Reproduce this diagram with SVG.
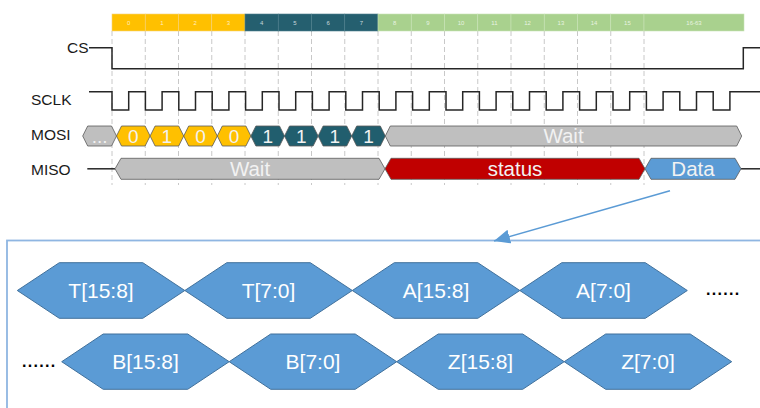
<svg xmlns="http://www.w3.org/2000/svg" width="760" height="408" viewBox="0 0 760 408">
<style>
.lbl{font-family:"Liberation Sans",Arial,sans-serif;font-size:15.5px;fill:#1a1a1a}
.num{font-family:"Liberation Sans",Arial,sans-serif;font-size:6px;fill:#ffffff;fill-opacity:0.75;text-anchor:middle}
.sig{fill:none;stroke:#262626;stroke-width:1.5}
.dash{stroke:#c8c8c8;stroke-width:1;stroke-dasharray:5,3}
.cellY{fill:#ffc000;stroke:#f5d27a;stroke-width:0.6}
.cellT{fill:#255f6f;stroke:#4d7f8c;stroke-width:0.6}
.cellG{fill:#a9d18e;stroke:#c9e3b7;stroke-width:0.6}
.hx{stroke:#5a5a5a;stroke-width:0.8}
.gray{fill:#bfbfbf}
.yel{fill:#ffc000}
.teal{fill:#215e6e}
.red{fill:#c00000}
.blu{fill:#5b9bd5}
.ht{font-family:"Liberation Sans",Arial,sans-serif;fill:#f2f2f2;text-anchor:middle}
.d17{font-size:19px}
.d20{font-size:20.5px}
.big{fill:#5b9bd5;stroke:#41719c;stroke-width:1}
.bt{font-family:"Liberation Sans",Arial,sans-serif;font-size:21px;fill:#ffffff;text-anchor:middle}
.dots{font-family:"Liberation Sans",Arial,sans-serif;font-size:16px;font-weight:bold;fill:#000;letter-spacing:1.3px}
</style>
<defs>
<marker id="ah" markerUnits="userSpaceOnUse" markerWidth="18" markerHeight="16" refX="16" refY="7" orient="auto">
<path d="M0,0 L16,7 L0,14 z" fill="#5b9bd5"/>
</marker>
</defs>
<rect width="760" height="408" fill="#ffffff"/>

<g id="grid">
<line class="dash" x1="112" y1="31" x2="112" y2="185"/>
<line class="dash" x1="145.25" y1="31" x2="145.25" y2="185"/>
<line class="dash" x1="178.5" y1="31" x2="178.5" y2="185"/>
<line class="dash" x1="211.75" y1="31" x2="211.75" y2="185"/>
<line class="dash" x1="245" y1="31" x2="245" y2="185"/>
<line class="dash" x1="278.25" y1="31" x2="278.25" y2="185"/>
<line class="dash" x1="311.5" y1="31" x2="311.5" y2="185"/>
<line class="dash" x1="344.75" y1="31" x2="344.75" y2="185"/>
<line class="dash" x1="378" y1="31" x2="378" y2="185"/>
<line class="dash" x1="411.25" y1="31" x2="411.25" y2="185"/>
<line class="dash" x1="444.5" y1="31" x2="444.5" y2="185"/>
<line class="dash" x1="477.75" y1="31" x2="477.75" y2="185"/>
<line class="dash" x1="511" y1="31" x2="511" y2="185"/>
<line class="dash" x1="544.25" y1="31" x2="544.25" y2="185"/>
<line class="dash" x1="577.5" y1="31" x2="577.5" y2="185"/>
<line class="dash" x1="610.75" y1="31" x2="610.75" y2="185"/>
<line class="dash" x1="644" y1="31" x2="644" y2="185"/>
</g>

<g id="bitbar">
<rect class="cellY" x="112" y="14" width="33.25" height="17"/>
<rect class="cellY" x="145.25" y="14" width="33.25" height="17"/>
<rect class="cellY" x="178.5" y="14" width="33.25" height="17"/>
<rect class="cellY" x="211.75" y="14" width="33.25" height="17"/>
<rect class="cellT" x="245" y="14" width="33.25" height="17"/>
<rect class="cellT" x="278.25" y="14" width="33.25" height="17"/>
<rect class="cellT" x="311.5" y="14" width="33.25" height="17"/>
<rect class="cellT" x="344.75" y="14" width="33.25" height="17"/>
<rect class="cellG" x="378" y="14" width="33.25" height="17"/>
<rect class="cellG" x="411.25" y="14" width="33.25" height="17"/>
<rect class="cellG" x="444.5" y="14" width="33.25" height="17"/>
<rect class="cellG" x="477.75" y="14" width="33.25" height="17"/>
<rect class="cellG" x="511" y="14" width="33.25" height="17"/>
<rect class="cellG" x="544.25" y="14" width="33.25" height="17"/>
<rect class="cellG" x="577.5" y="14" width="33.25" height="17"/>
<rect class="cellG" x="610.75" y="14" width="33.25" height="17"/>
<rect class="cellG" x="644" y="14" width="100" height="17"/>
<text class="num" x="128.6" y="24.5">0</text>
<text class="num" x="161.9" y="24.5">1</text>
<text class="num" x="195.1" y="24.5">2</text>
<text class="num" x="228.4" y="24.5">3</text>
<text class="num" x="261.6" y="24.5">4</text>
<text class="num" x="294.9" y="24.5">5</text>
<text class="num" x="328.1" y="24.5">6</text>
<text class="num" x="361.4" y="24.5">7</text>
<text class="num" x="394.6" y="24.5">8</text>
<text class="num" x="427.9" y="24.5">9</text>
<text class="num" x="461.1" y="24.5">10</text>
<text class="num" x="494.4" y="24.5">11</text>
<text class="num" x="527.6" y="24.5">12</text>
<text class="num" x="560.9" y="24.5">13</text>
<text class="num" x="594.1" y="24.5">14</text>
<text class="num" x="627.4" y="24.5">15</text>
<text class="num" x="694" y="24.5">16-63</text>
</g>

<g id="cs">
<text class="lbl" x="67" y="53.3">CS</text>
<path class="sig" d="M89,47.7 H112 V68.7 H743.3 V47.7 H760"/>
</g>

<g id="sclk">
<text class="lbl" x="31" y="105">SCLK</text>
<path class="sig" d="M89,91.7 H112 V110 H128.7 V91.7 H145.4 V110 H162.1 V91.7 H178.8 V110 H195.5 V91.7 H212.2 V110 H228.9 V91.7 H245.6 V110 H262.3 V91.7 H279 V110 H295.7 V91.7 H312.4 V110 H329.1 V91.7 H345.8 V110 H362.5 V91.7 H379.2 V110 H395.9 V91.7 H412.6 V110 H429.3 V91.7 H446 V110 H462.7 V91.7 H479.4 V110 H496.1 V91.7 H512.8 V110 H529.5 V91.7 H546.2 V110 H562.9 V91.7 H579.6 V110 H596.3 V91.7 H613 V110 H629.7 V91.7 H646.4 V110 H663.1 V91.7 H679.8 V110 H696.5 V91.7 H713.2 V110 H729.9 V91.7 H760"/>
</g>

<g id="mosi">
<text class="lbl" x="31" y="140">MOSI</text>
<polygon class="hx gray" points="82.7,136 87.7,126 111.5,126 116.5,136 111.5,146 87.7,146"/>
<polygon class="hx yel" points="116.5,136 121.5,126 145.1,126 150.1,136 145.1,146 121.5,146"/>
<polygon class="hx yel" points="150.1,136 155.1,126 178.7,126 183.7,136 178.7,146 155.1,146"/>
<polygon class="hx yel" points="183.7,136 188.7,126 212.3,126 217.3,136 212.3,146 188.7,146"/>
<polygon class="hx yel" points="217.3,136 222.3,126 245.9,126 250.9,136 245.9,146 222.3,146"/>
<polygon class="hx teal" points="250.9,136 255.9,126 279.5,126 284.5,136 279.5,146 255.9,146"/>
<polygon class="hx teal" points="284.5,136 289.5,126 313.1,126 318.1,136 313.1,146 289.5,146"/>
<polygon class="hx teal" points="318.1,136 323.1,126 346.7,126 351.7,136 346.7,146 323.1,146"/>
<polygon class="hx teal" points="351.7,136 356.7,126 380.3,126 385.3,136 380.3,146 356.7,146"/>
<polygon class="hx gray" points="385.3,136 390.3,126 736.7,126 741.7,136 736.7,146 390.3,146"/>
<text class="ht d17" x="99.6" y="143">...</text>
<text class="ht d17" x="133.3" y="143">0</text>
<text class="ht d17" x="166.9" y="143">1</text>
<text class="ht d17" x="200.5" y="143">0</text>
<text class="ht d17" x="234.1" y="143">0</text>
<text class="ht d17" x="267.7" y="143">1</text>
<text class="ht d17" x="301.3" y="143">1</text>
<text class="ht d17" x="334.9" y="143">1</text>
<text class="ht d17" x="368.5" y="143">1</text>
<text class="ht d20" x="563.5" y="143">Wait</text>
</g>

<g id="miso">
<text class="lbl" x="31" y="175">MISO</text>
<line class="sig" x1="87.3" y1="168.8" x2="115" y2="168.8"/>
<line class="sig" x1="741" y1="168.8" x2="760" y2="168.8"/>
<polygon class="hx gray" points="115,168.8 121,158.3 379,158.3 385,168.8 379,179.3 121,179.3"/>
<polygon class="hx red" points="385,168.8 391,158.3 639,158.3 645,168.8 639,179.3 391,179.3"/>
<polygon class="hx blu" points="645,168.8 651,158.3 735,158.3 741,168.8 735,179.3 651,179.3"/>
<text class="ht d20" x="250" y="176">Wait</text>
<text class="ht d20" x="515" y="176">status</text>
<text class="ht d20" x="693" y="176">Data</text>
</g>

<g id="detail-box">
<rect x="7" y="240.5" width="770" height="190" fill="none" stroke="#8fb6e2" stroke-width="1.8"/>
</g>

<g id="connectors">
<line x1="670" y1="190.7" x2="494" y2="241" stroke="#5b9bd5" stroke-width="1.6" marker-end="url(#ah)"/>
</g>

<g id="row1">
<g id="t158"><polygon class="big" points="17.3,290.5 59.3,262.7 142.8,262.7 184.8,290.5 142.8,318.3 59.3,318.3"/><text class="bt" x="101" y="298">T[15:8]</text></g>
<g id="t70"><polygon class="big" points="184.8,290.5 226.8,262.7 310.3,262.7 352.3,290.5 310.3,318.3 226.8,318.3"/><text class="bt" x="268.5" y="298">T[7:0]</text></g>
<g id="a158"><polygon class="big" points="352.3,290.5 394.3,262.7 477.8,262.7 519.8,290.5 477.8,318.3 394.3,318.3"/><text class="bt" x="436" y="298">A[15:8]</text></g>
<g id="a70"><polygon class="big" points="519.8,290.5 561.8,262.7 645.3,262.7 687.3,290.5 645.3,318.3 561.8,318.3"/><text class="bt" x="603.5" y="298">A[7:0]</text></g>
<text class="dots" x="706" y="295">......</text>
</g>

<g id="row2">
<text class="dots" x="22" y="366.5">......</text>
<g id="b158"><polygon class="big" points="61.7,361.7 103.2,334 187.7,334 229.2,361.7 187.7,389.3 103.2,389.3"/><text class="bt" x="145.5" y="369">B[15:8]</text></g>
<g id="b70"><polygon class="big" points="229.2,361.7 270.7,334 355.2,334 396.7,361.7 355.2,389.3 270.7,389.3"/><text class="bt" x="313" y="369">B[7:0]</text></g>
<g id="z158"><polygon class="big" points="396.7,361.7 438.2,334 522.7,334 564.2,361.7 522.7,389.3 438.2,389.3"/><text class="bt" x="480.5" y="369">Z[15:8]</text></g>
<g id="z70"><polygon class="big" points="564.2,361.7 605.7,334 690.2,334 731.7,361.7 690.2,389.3 605.7,389.3"/><text class="bt" x="648" y="369">Z[7:0]</text></g>
</g>
</svg>
